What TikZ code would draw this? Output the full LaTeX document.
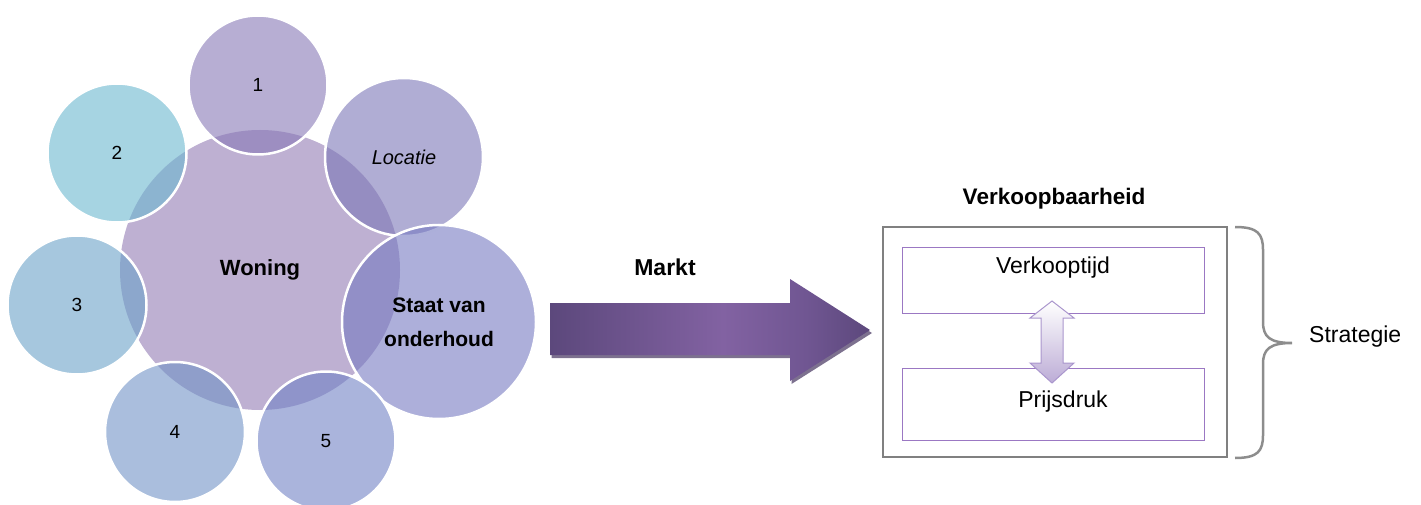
\documentclass[tikz,border=0pt]{standalone}
\usepackage{fontspec}
\setmainfont{Liberation Sans}
\usetikzlibrary{positioning,calc}
\definecolor{woningcol}{RGB}{190,176,210}
\definecolor{onecol}{RGB}{135,120,182}
\definecolor{twocol}{RGB}{107,183,207}
\definecolor{threecol}{RGB}{107,162,200}
\definecolor{fourcol}{RGB}{113,147,198}
\definecolor{fivecol}{RGB}{113,130,197}
\definecolor{loccol}{RGB}{123,118,183}
\definecolor{staatcol}{RGB}{118,122,193}
\definecolor{arrowdark}{RGB}{92,72,124}
\definecolor{arrowlight}{RGB}{130,98,162}
\definecolor{arrowmid}{RGB}{112,86,146}
\definecolor{arrowshadow}{RGB}{70,52,96}
\definecolor{boxline}{RGB}{128,128,128}
\definecolor{innerline}{RGB}{155,120,195}
\definecolor{linkcol}{RGB}{188,172,214}
\definecolor{linkline}{RGB}{170,150,205}
\pgfdeclarehorizontalshading{marktshade}{100bp}{color(0bp)=(arrowdark); color(25bp)=(arrowdark);
  color(52bp)=(arrowlight); color(65bp)=(arrowmid); color(75bp)=(arrowdark); color(100bp)=(arrowdark)}

\begin{document}
\begin{tikzpicture}[x=1pt, y=-1pt,
  bubble/.style={circle, draw=white, line width=2.5pt, fill opacity=0.6, text opacity=1,
                 inner sep=0pt, align=center, font=\fontsize{19}{23}\selectfont},
  hub/.style={circle, fill=woningcol, inner sep=0pt, font=\bfseries\fontsize{22}{26}\selectfont},
  heading/.style={font=\bfseries\fontsize{23}{27}\selectfont, inner sep=0pt},
  lbl/.style={font=\fontsize{23}{27}\selectfont, inner sep=0pt},
  innerbox/.style={draw=innerline, line width=1pt, minimum width=302pt, inner sep=0pt},
]
\useasboundingbox (0,0) rectangle (1421,505);

% woning with its factors
\node[hub, minimum size=280pt] (won) at (260,270) {Woning};
\node[bubble, fill=onecol, minimum size=139pt] (f1) at (258,85) {1};
\node[bubble, fill=loccol, minimum size=158pt, font=\itshape\fontsize{20}{24}\selectfont] (loc) at (404,157) {Locatie};
\node[bubble, fill=staatcol, minimum size=194pt, font=\bfseries\fontsize{21}{34}\selectfont] (staat) at (439,322) {Staat van\\onderhoud};
\node[bubble, fill=fivecol, minimum size=139pt] (f5) at (326,441) {5};
\node[bubble, fill=fourcol, minimum size=140pt] (f4) at (175,432) {4};
\node[bubble, fill=threecol, minimum size=139pt] (f3) at (77,305) {3};
\node[bubble, fill=twocol, minimum size=139pt] (f2) at (117,153) {2};

% markt arrow
\fill[arrowshadow, opacity=0.7] (551.5,306) -- (791.5,306) -- (791.5,282) -- (872,333)
  -- (791.5,384) -- (791.5,358) -- (551.5,358) -- cycle;
\shade[shading=marktshade] (550,303) -- (790,303) -- (790,279) -- (870,330)
  -- (790,381) -- (790,355) -- (550,355) -- cycle;
\node[heading] (markt) at (665,267) {Markt};

% verkoopbaarheid
\node[draw=boxline, line width=2.5pt, minimum width=344pt, minimum height=230pt] (box) at (1055,342) {};
\node[heading, font=\bfseries\fontsize{22.5}{27}\selectfont] (vb) at (1054,199) {Verkoopbaarheid};
\node[innerbox, minimum height=66pt] (vt) at (1053,280) {};
\node[innerbox, minimum height=72pt] (pd) at (1053,404) {};
\node[lbl] (vtl) at (1053,268) {Verkooptijd};
\node[lbl] (pdl) at (1063,402) {Prijsdruk};
\shade[top color=white, bottom color=linkcol, draw=linkline, line width=1pt]
  (1052,301) -- (1074,318) -- (1063,318) -- (1063,363) -- (1074,363) -- (1052,383)
  -- (1030,363) -- (1041,363) -- (1041,318) -- (1030,318) -- cycle;

% strategie brace
\draw[boxline!90!white, line width=2.5pt]
  (1235,227) .. controls (1258,227) and (1263,234) .. (1263,250) -- (1263,322)
  .. controls (1263,337) and (1270,343) .. (1292,343)
  .. controls (1270,343) and (1263,349) .. (1263,364) -- (1263,435)
  .. controls (1263,451) and (1258,458) .. (1235,458);
\node[lbl, anchor=west] (strat) at (1309,337) {Strategie};
\end{tikzpicture}
\end{document}
